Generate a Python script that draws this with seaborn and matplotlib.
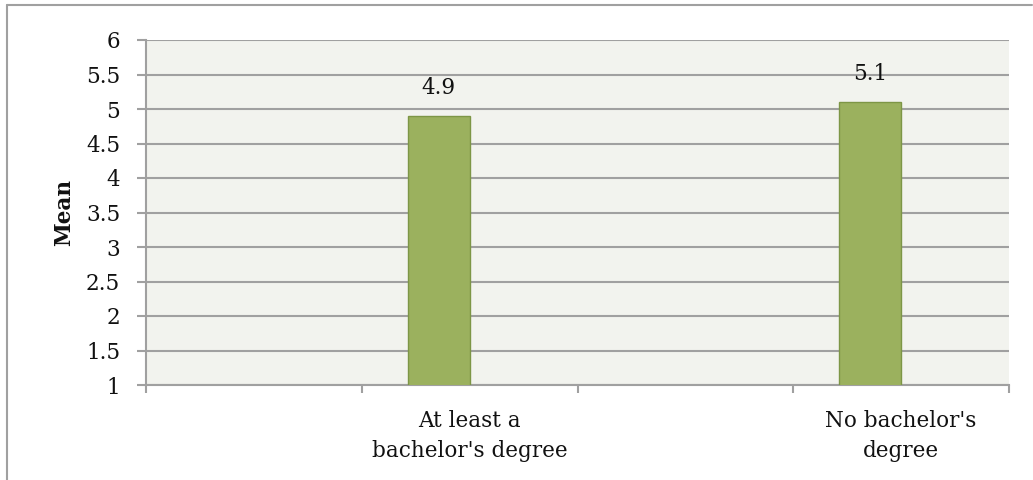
import numpy as np
import pandas as pd
import matplotlib
matplotlib.use("Agg")
import matplotlib.pyplot as plt
from matplotlib.lines import Line2D
from matplotlib.ticker import FixedLocator, NullFormatter
import seaborn as sns

# Category slots along the x axis (blank slots stay empty)
categories = ["", "At least a\nbachelor's degree", " ", "No bachelor's\ndegree"]
groups = ["At least a\nbachelor's degree", "No bachelor's\ndegree"]
means = [4.9, 5.1]
series = ["Mean", "Mean"]
series_order = ["Mean", "_empty"]
y_ticks = [1, 1.5, 2, 2.5, 3, 3.5, 4, 4.5, 5, 5.5, 6]

df = pd.DataFrame({"group": groups, "mean": means, "series": series})

sns.set_theme(style="white")
plt.rcParams["font.family"] = ["DejaVu Serif"]

grid_col = "#A0A0A0"
bar_col = "#9BB15E"
edge_col = "#7D9646"
bg_col = "#F2F3EE"
fs = 15.5

fig = plt.figure(figsize=(10.33, 4.8), dpi=100)
ax = fig.add_axes([146 / 1033, 95 / 480, 863 / 1033, 345 / 480])
ax.set_facecolor(bg_col)

sns.barplot(data=df, x="group", y="mean", hue="series", order=categories,
            hue_order=series_order, palette={"Mean": bar_col, "_empty": bar_col},
            width=0.574, dodge=True, saturation=1, edgecolor=edge_col,
            linewidth=1.0, legend=False, ax=ax, zorder=3)

ax.set_ylim(1, 6)
ax.set_xlim(-0.5, len(categories) - 0.5)
ax.set_yticks(y_ticks)
ax.set_yticklabels([f"{v:g}" for v in y_ticks], fontsize=fs, color="#111111")
ax.yaxis.grid(True, color=grid_col, linewidth=1.5)
ax.set_axisbelow(True)
ax.tick_params(axis="y", direction="out", length=6.5, width=1.5, color=grid_col,
               pad=12, left=True)

# Ticks on category boundaries, labels at category centres
ax.xaxis.set_major_locator(FixedLocator(np.arange(-0.5, len(categories), 1.0)))
ax.xaxis.set_major_formatter(NullFormatter())
ax.xaxis.set_minor_locator(FixedLocator(range(len(categories))))
ax.set_xticklabels(categories, minor=True, fontsize=fs, color="#111111",
                   linespacing=1.5)
ax.tick_params(axis="x", which="major", direction="out", length=5.5, width=1.5,
               color=grid_col, bottom=True)
ax.tick_params(axis="x", which="minor", length=0, pad=18)
ax.set_xlabel("")
ax.set_ylabel("Mean", fontsize=fs, fontweight="bold", labelpad=8, color="#111111")

for side in ["top", "right"]:
    ax.spines[side].set_visible(False)
for side in ["left", "bottom"]:
    ax.spines[side].set_color(grid_col)
    ax.spines[side].set_linewidth(1.5)

for cont in ax.containers:
    ax.bar_label(cont, labels=[f"{v:g}" if np.isfinite(v) else "" for v in cont.datavalues],
                 padding=12, fontsize=fs, color="#111111")

# Frame lines along the top and left edges of the figure
fig.add_artist(Line2D([7 / 1033, 1032 / 1033], [1 - 5 / 480, 1 - 5 / 480],
                      transform=fig.transFigure, color=grid_col, linewidth=1.5))
fig.add_artist(Line2D([7 / 1033, 7 / 1033], [0, 1 - 5 / 480],
                      transform=fig.transFigure, color=grid_col, linewidth=1.5))

fig.savefig("out.png", dpi=100, facecolor="white")
